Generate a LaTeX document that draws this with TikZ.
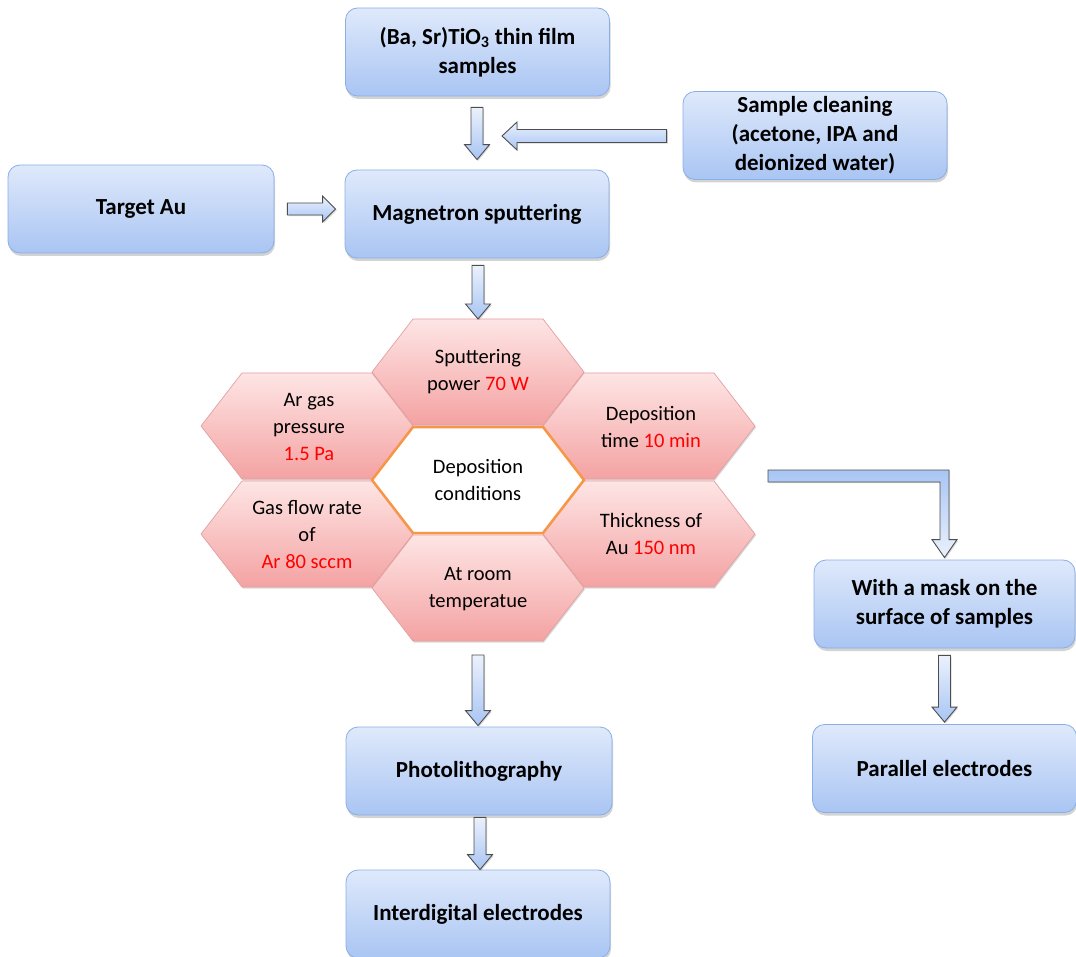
\documentclass[tikz,border=0pt]{standalone}
\usepackage{fontspec}
\setmainfont{Carlito}
\usetikzlibrary{calc,shadows}

\definecolor{boxtop}{HTML}{DFE9FB}
\definecolor{boxbot}{HTML}{A9C5F3}
\definecolor{boxline}{HTML}{8AAEE6}
\definecolor{hextop}{HTML}{FEE5E5}
\definecolor{hexbot}{HTML}{F4A2A2}
\definecolor{hexline}{HTML}{E2A0A0}
\definecolor{coreline}{HTML}{F79646}
\definecolor{arrline}{HTML}{4D4D4D}
\definecolor{arrtop}{HTML}{EBF1FC}
\definecolor{arrbot}{HTML}{A8C5F4}
\definecolor{valred}{HTML}{FF0000}

\tikzset{
  procbox/.style={draw=boxline, line width=0.8pt, rounded corners=12pt,
    top color=boxtop, bottom color=boxbot,
    minimum width=264pt, minimum height=88pt, align=center,
    font=\fontsize{23}{29}\selectfont\bfseries,
    drop shadow={shadow xshift=1pt, shadow yshift=-3pt, opacity=0.35}},
  hexfill/.style={draw=hexline, line width=0.7pt, top color=hextop, bottom color=hexbot,
    drop shadow={shadow xshift=1pt, shadow yshift=-1.5pt, opacity=0.3}},
  hexcore/.style={draw=coreline, line width=2.5pt, fill=white, line join=miter},
  hextext/.style={align=center, font=\fontsize{20.5}{27}\selectfont, inner sep=0pt},
  flowarrow/.style={draw=arrline, line width=0.9pt, top color=arrtop, bottom color=arrbot,
    drop shadow={shadow xshift=1.2pt, shadow yshift=-1.2pt, opacity=0.3}},
  bentarrow/.style={draw=arrline, line width=0.9pt, top color=arrbot, bottom color=arrtop,
    drop shadow={shadow xshift=1.2pt, shadow yshift=-1.2pt, opacity=0.3}},
}

% flat-topped hexagon: name, centre x, centre y, style
\newcommand\hexcell[4]{%
  \path[#4] (#2-106,#3) -- (#2-65,#3+53) -- (#2+65,#3+53) -- (#2+106,#3)
    -- (#2+65,#3-53) -- (#2-65,#3-53) -- cycle;
  \coordinate (#1-n) at (#2,#3+53);
  \coordinate (#1-s) at (#2,#3-53);
  \coordinate (#1-e) at (#2+106,#3);}

% block arrows: tail point, tip point
\newcommand\flowdown[2]{%
  \path[flowarrow] let \p1=(#1), \p2=(#2) in
    (\x2-6pt,\y1) -- (\x2+6pt,\y1) -- (\x2+6pt,\y2+15pt) -- (\x2+12.5pt,\y2+15pt)
    -- (\x2,\y2) -- (\x2-12.5pt,\y2+15pt) -- (\x2-6pt,\y2+15pt) -- cycle;}
\newcommand\flowleft[2]{%
  \path[flowarrow] let \p1=(#1), \p2=(#2) in
    (\x1,\y2+6.5pt) -- (\x2+15pt,\y2+6.5pt) -- (\x2+15pt,\y2+14pt) -- (\x2,\y2)
    -- (\x2+15pt,\y2-14pt) -- (\x2+15pt,\y2-6.5pt) -- (\x1,\y2-6.5pt) -- cycle;}
\newcommand\flowright[2]{%
  \path[flowarrow] let \p1=(#1), \p2=(#2) in
    (\x1,\y1+6pt) -- (\x2-13pt,\y1+6pt) -- (\x2-13pt,\y1+13pt) -- (\x2,\y1)
    -- (\x2-13pt,\y1-13pt) -- (\x2-13pt,\y1-6pt) -- (\x1,\y1-6pt) -- cycle;}
\newcommand\flowbend[2]{%
  \path[bentarrow] let \p1=(#1), \p2=(#2) in
    (\x1,\y1+6pt) -- (\x2+4.5pt,\y1+6pt) -- (\x2+4.5pt,\y2+18pt) -- (\x2+12.5pt,\y2+18pt)
    -- (\x2,\y2) -- (\x2-12.5pt,\y2+18pt) -- (\x2-4.5pt,\y2+18pt) -- (\x2-4.5pt,\y1-6pt)
    -- (\x1,\y1-6pt) -- cycle;}

\begin{document}
\begin{tikzpicture}[x=1pt,y=1pt]
\useasboundingbox (0,0) rectangle (1076,-957);

% process boxes
\node[procbox] (samples)   at (477.5,-52)  {(Ba, Sr)TiO\textsubscript{3} thin film\\samples};
\node[procbox] (cleaning)  at (815,-135.5) {Sample cleaning\\(acetone, IPA and\\deionized water)};
\node[procbox, minimum width=266pt] (target) at (141,-209) {Target Au};
\node[procbox] (magnetron) at (477,-214)   {Magnetron sputtering};
\node[procbox, minimum width=261pt] (mask) at (944.5,-604) {With a mask on the\\surface of samples};
\node[procbox] (parallel)  at (944.5,-768.5) {Parallel electrodes};
\node[procbox, minimum width=266pt] (photo) at (479,-771) {Photolithography};
\node[procbox] (inter)     at (478,-914)   {Interdigital electrodes};

% deposition conditions honeycomb
\hexcell{hT}{478}{-372}{hexfill}
\hexcell{hUL}{307}{-426}{hexfill}
\hexcell{hLL}{307}{-534}{hexfill}
\hexcell{hUR}{649}{-426}{hexfill}
\hexcell{hLR}{649}{-534}{hexfill}
\hexcell{hB}{478}{-588}{hexfill}
\hexcell{hC}{478}{-480}{hexcore}

\node[hextext] (power)    at (478,-372) {Sputtering\\power \textcolor{valred}{70 W}};
\node[hextext] (pressure) at (309,-427) {Ar gas\\pressure\\\textcolor{valred}{1.5 Pa}};
\node[hextext] (flow)     at (307,-535) {Gas flow rate\\of\\\textcolor{valred}{Ar 80 sccm}};
\node[hextext] (time)     at (651,-427) {Deposition\\time \textcolor{valred}{10 min}};
\node[hextext] (thick)    at (651,-534) {Thickness of\\Au \textcolor{valred}{150 nm}};
\node[hextext] (room)     at (478,-589) {At room\\temperatue};
\node[hextext] (cond)     at (478,-480) {Deposition\\conditions};

% connectors
\coordinate (merge) at (502,-136);
\coordinate (bendstart) at (768,-476);
\flowdown{$(samples.south)+(0,-11)$}{$(magnetron.north)+(0,10)$}
\flowleft{$(cleaning.west)+(-16,0)$}{merge}
\flowright{$(target.east)+(13,0)$}{$(magnetron.west |- target.east)+(-9,0)$}
\flowdown{$(magnetron.south)+(0,-7)$}{hT-n}
\flowdown{$(hB-s)+(0,-14)$}{$(photo.north -| hB-s)+(0,1)$}
\flowdown{$(photo.south)+(0,-2)$}{$(inter.north)+(2,0)$}
\flowbend{bendstart}{$(mask.north)+(0,2)$}
\flowdown{$(mask.south)+(0,-7)$}{$(parallel.north)+(0,2)$}
\end{tikzpicture}
\end{document}
